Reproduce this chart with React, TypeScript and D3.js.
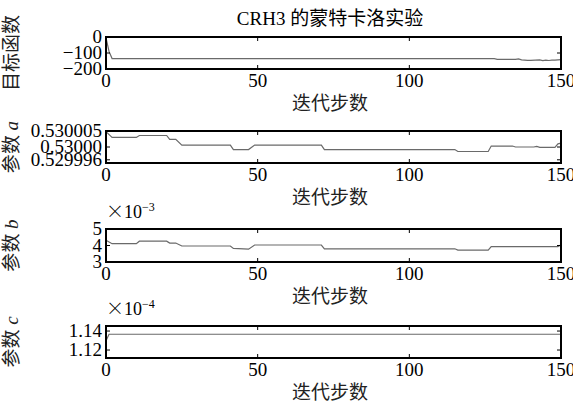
import React from 'react';
import * as d3 from 'd3';

// x axis (iteration steps)
const xTicks = [0, 50, 100, 150];

// objective function: vertices of the trace
const objSteps = [0, 1, 2, 128, 129, 135, 136, 137, 139, 140, 143, 144, 145, 146, 147, 148, 150];
const objValues = [-5, -90, -135, -135, -140, -140, -137, -143, -146, -146, -143, -147, -144, -147, -145, -145, -142];
const objTicks = [0, -100, -200];
const objTickLabels = ['0', '\u2212100', '\u2212200'];

// parameter a
const aSteps = [0, 2, 10, 11, 20, 21, 23, 25, 41, 42, 47, 49, 71, 72, 115, 116, 126, 127, 134, 135, 141, 142, 143, 148, 149, 150];
const aValues = [0.5300048, 0.530003, 0.530003, 0.5300036, 0.5300036, 0.5300024, 0.5300024, 0.5300006, 0.5300006, 0.5299992,
  0.5299992, 0.5300006, 0.5300006, 0.5299992, 0.5299992, 0.5299986, 0.5299986, 0.5300003, 0.5300003, 0.53,
  0.53, 0.5300002, 0.5299999, 0.5299999, 0.530001, 0.5300012];
const aTicks = [0.530005, 0.53, 0.529996];
const aTickLabels = ['0.530005', '0.53000', '0.529996'];

// parameter b (x 1e-3)
const bSteps = [0, 2, 10, 11, 20, 21, 23, 25, 41, 42, 47, 49, 71, 72, 115, 116, 126, 127, 149, 150];
const bValues = [4.32, 4.11, 4.11, 4.26, 4.26, 4.15, 4.15, 3.97, 3.97, 3.82, 3.78, 4.03, 4.03, 3.8, 3.8, 3.72, 3.72, 3.93, 3.93, 4.05];
const bTicks = [5, 4, 3];
const bTickLabels = ['5', '4', '3'];

// parameter c (x 1e-4)
const cSteps = [0, 1, 150];
const cValues = [1.1297, 1.1366, 1.1366];
const cTicks = [1.14, 1.12];
const cTickLabels = ['1.14', '1.12'];

const FONT = "'Liberation Serif', 'Times New Roman', 'Noto Sans CJK SC', serif";
const left = 106;
const right = 561;

function Panel({ top, height, domain, steps, values, ticks, labels, ylabel, exponent }) {
  const x = d3.scaleLinear().domain([0, 150]).range([left, right]);
  const y = d3.scaleLinear().domain(domain).range([top + height, top]);
  const bottom = top + height;
  const line = d3.line<number>()
    .x((d, i) => x(steps[i]))
    .y(d => y(d));

  return (
    <g>
      <path d={line(values)} fill="none" stroke="#6a6a6a" strokeWidth={1.2} />
      {/* inward ticks on all four sides */}
      {xTicks.map(t => (
        <g key={'x' + t}>
          <line x1={x(t)} x2={x(t)} y1={bottom} y2={bottom - 4} stroke="black" strokeWidth={1} />
          <line x1={x(t)} x2={x(t)} y1={top} y2={top + 4} stroke="black" strokeWidth={1} />
          <text x={x(t)} y={bottom + 18} textAnchor="middle" fontSize={19}>{t}</text>
        </g>
      ))}
      {ticks.map((t, i) => (
        <g key={'y' + i}>
          <line x1={left} x2={left + 4} y1={y(t)} y2={y(t)} stroke="black" strokeWidth={1} />
          <line x1={right} x2={right - 4} y1={y(t)} y2={y(t)} stroke="black" strokeWidth={1} />
          <text x={left - 4} y={y(t)} dy="0.33em" textAnchor="end" fontSize={19}>{labels[i]}</text>
        </g>
      ))}
      <rect x={left} y={top} width={right - left} height={height} fill="none" stroke="black" strokeWidth={2} />
      <text x={330} y={bottom + 41} textAnchor="middle" fontSize={19} fill="#222">迭代步数</text>
      <text transform={`translate(18,${top + height / 2}) rotate(-90)`} textAnchor="middle" fontSize={19} fill="#222">
        {ylabel}
      </text>
      {exponent && (
        <text x={left} y={top - 11} fontSize={18}>
          <tspan fontFamily="'Noto Sans CJK SC'" fontWeight={300}>×</tspan>10<tspan fontSize={12} dy={-7}>{exponent}</tspan>
        </text>
      )}
    </g>
  );
}

export default function App() {
  return (
    <svg width={573} height={403} style={{ position: 'absolute', left: 0, top: 0, background: 'white' }}
      fontFamily={FONT}>
      <text x={330} y={25} textAnchor="middle" fontSize={19}>CRH3 的蒙特卡洛实验</text>
      <Panel top={37} height={32} domain={[-200, 0]} steps={objSteps} values={objValues}
        ticks={objTicks} labels={objTickLabels} ylabel="目标函数" exponent={null} />
      <Panel top={131} height={32} domain={[0.529995, 0.530005]} steps={aSteps} values={aValues}
        ticks={aTicks} labels={aTickLabels}
        ylabel={<>参数 <tspan fontStyle="italic">a</tspan></>} exponent={null} />
      <Panel top={229} height={33} domain={[3, 5]} steps={bSteps} values={bValues}
        ticks={bTicks} labels={bTickLabels}
        ylabel={<>参数 <tspan fontStyle="italic">b</tspan></>} exponent={'\u22123'} />
      <Panel top={326} height={32} domain={[1.1116, 1.1453]} steps={cSteps} values={cValues}
        ticks={cTicks} labels={cTickLabels}
        ylabel={<>参数 <tspan fontStyle="italic">c</tspan></>} exponent={'\u22124'} />
    </svg>
  );
}
